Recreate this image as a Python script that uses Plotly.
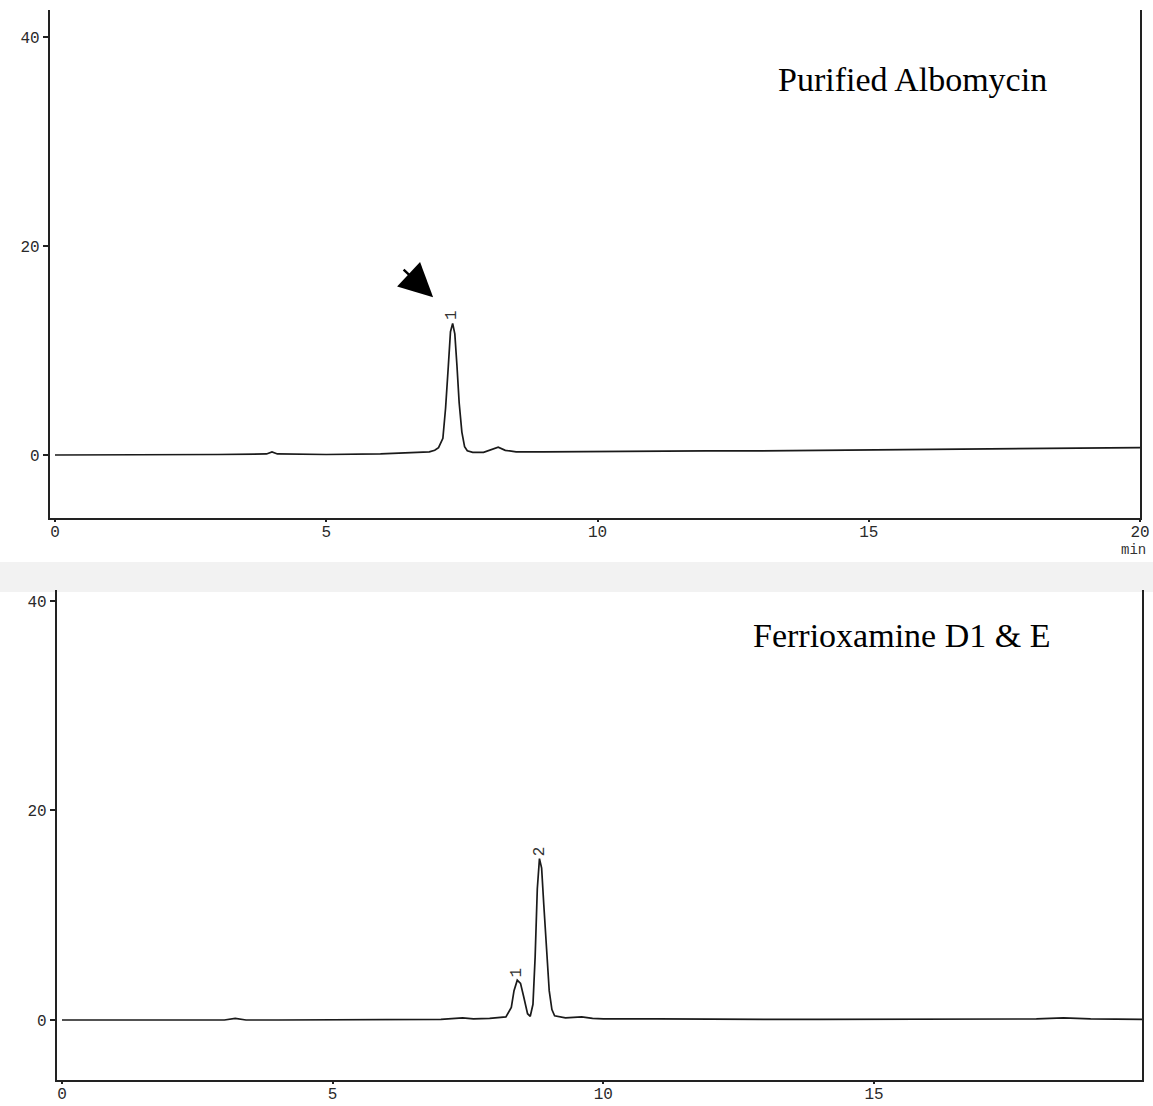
import plotly.graph_objects as go

# ---- data ----
top_t = [0, 1, 2, 3, 3.9, 4.0, 4.1, 5, 6, 6.6, 6.9, 7.0, 7.07, 7.15, 7.2, 7.25, 7.29, 7.33, 7.37, 7.41, 7.45, 7.5, 7.55, 7.6, 7.7, 7.9, 8.05, 8.17, 8.3, 8.5, 9, 10, 11, 12, 13, 14, 15, 16, 17, 18, 19, 20]
top_y = [0, 0, 0, 0.05, 0.1, 0.3, 0.1, 0.05, 0.1, 0.2, 0.3, 0.45, 0.7, 1.6, 4.5, 8.5, 11.8, 12.6, 11.6, 8.5, 5.0, 2.2, 0.8, 0.4, 0.25, 0.25, 0.55, 0.75, 0.45, 0.3, 0.3, 0.35, 0.35, 0.4, 0.4, 0.45, 0.5, 0.55, 0.55, 0.6, 0.65, 0.7]

bot_t = [0, 1, 2, 3, 3.2, 3.4, 4, 5, 6, 7, 7.4, 7.6, 7.9, 8.2, 8.3, 8.35, 8.41, 8.47, 8.53, 8.6, 8.65, 8.7, 8.74, 8.78, 8.82, 8.86, 8.9, 8.95, 9.0, 9.05, 9.1, 9.3, 9.5, 9.6, 9.8, 10, 11, 12, 13, 14, 15, 16, 17, 18, 18.5, 19, 19.95]
bot_y = [0, 0, 0, 0, 0.15, 0, 0, 0, 0, 0.05, 0.2, 0.1, 0.15, 0.3, 1.2, 2.8, 3.8, 3.5, 2.2, 0.6, 0.35, 1.5, 6.0, 12.5, 15.4, 14.5, 11.0, 6.5, 2.8, 1.0, 0.4, 0.2, 0.3, 0.3, 0.15, 0.1, 0.1, 0.05, 0.05, 0.05, 0.05, 0.05, 0.05, 0.1, 0.2, 0.1, 0.05]

top_peak_t = [7.33]
top_peak_h = [12.6]
top_peak_n = ["1"]
bot_peak_t = [8.41, 8.82]
bot_peak_h = [3.8, 15.4]
bot_peak_n = ["1", "2"]

y_ticks = [0, 20, 40]
x_ticks = [0, 5, 10, 15, 20]

W, H = 1153, 1106
FIG_W = 1163
def px(x): return x / W
def py(y): return 1 - y / H

line_col = "#1a1a1a"
mono = "Liberation Mono"
serif = "Liberation Serif"

fig = go.Figure()
fig.add_trace(go.Scatter(x=top_t, y=top_y, mode="lines", line=dict(color=line_col, width=1.7),
                         xaxis="x", yaxis="y", showlegend=False, hoverinfo="skip"))
fig.add_trace(go.Scatter(x=bot_t, y=bot_y, mode="lines", line=dict(color=line_col, width=1.7),
                         xaxis="x2", yaxis="y2", showlegend=False, hoverinfo="skip"))

ax_common = dict(showgrid=False, zeroline=False, showline=True, linecolor="#222", linewidth=2.2,
                 ticks="outside", ticklen=5, tickwidth=1.5, tickcolor="#222",
                 tickfont=dict(family=mono, size=16, color="#2a2a2a"))

fig.update_layout(
    width=FIG_W, height=H, autosize=False, margin=dict(l=0, r=0, t=0, b=0),
    paper_bgcolor="white", plot_bgcolor="white",
    xaxis=dict(ax_common, domain=[px(50), px(1140)], range=[-0.092, 20.0],
               tickvals=x_ticks, anchor="y", ticklen=2, ticklabelstandoff=-4),
    yaxis=dict(ax_common, domain=[py(518), py(10)], range=[-6.03, 42.6],
               tickvals=y_ticks, anchor="x", mirror=True),
    xaxis2=dict(ax_common, domain=[px(57), px(1142)], range=[-0.092, 19.95],
                tickvals=x_ticks[:-1], anchor="y2", ticklen=2, ticklabelstandoff=-4),
    yaxis2=dict(ax_common, domain=[py(1080), py(590)], range=[-5.73, 41.05],
                tickvals=y_ticks, anchor="x2", mirror=True),
)

ann = []
for t, h, n in zip(top_peak_t, top_peak_h, top_peak_n):
    ann.append(dict(x=t, y=h, xref="x", yref="y", text=n, showarrow=False, textangle=-90,
                    xanchor="center", yanchor="bottom", yshift=1,
                    font=dict(family=mono, size=16, color="#333")))
for t, h, n in zip(bot_peak_t, bot_peak_h, bot_peak_n):
    ann.append(dict(x=t, y=h, xref="x2", yref="y2", text=n, showarrow=False, textangle=-90,
                    xanchor="center", yanchor="bottom", yshift=1,
                    font=dict(family=mono, size=16, color="#333")))

# arrow pointing at the albomycin peak
ann.append(dict(x=6.97, y=15.1, xref="x", yref="y", text="", showarrow=True,
                ax=-31, ay=-29, arrowhead=2, arrowsize=2.8, arrowwidth=2.4, arrowcolor="black",
                standoff=0))

ann.append(dict(x=px(912), y=py(80), xref="paper", yref="paper", text="Purified Albomycin",
                xanchor="center", yanchor="middle", showarrow=False,
                font=dict(family=serif, size=34, color="black")))
ann.append(dict(x=px(901), y=py(635), xref="paper", yref="paper", text="Ferrioxamine D1 &amp; E",
                xanchor="center", yanchor="middle", showarrow=False,
                font=dict(family=serif, size=34, color="black")))
ann.append(dict(x=px(1133), y=py(550), xref="paper", yref="paper", text="min",
                xanchor="center", yanchor="middle", showarrow=False,
                font=dict(family=mono, size=14, color="#333")))
fig.update_layout(annotations=ann)

# faint scan smear between the panels
fig.add_shape(type="rect", xref="paper", yref="paper", x0=0, x1=1, y0=py(592), y1=py(562),
              fillcolor="rgba(0,0,0,0.05)", line=dict(width=0), layer="below")

fig.write_html("out.html",
               config={"displayModeBar": False, "responsive": False},
               post_script="document.body.style.margin='0';document.body.style.overflow='hidden';")
